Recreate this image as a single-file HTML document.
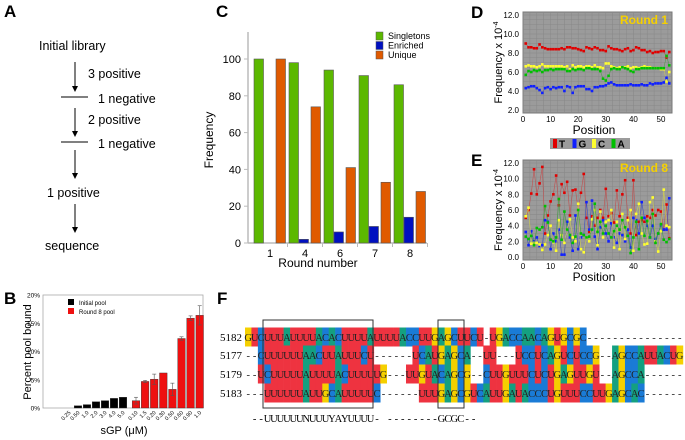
<!DOCTYPE html>
<html><head><meta charset="utf-8"><style>
body{margin:0;background:#fff}
svg{display:block;font-family:"Liberation Sans",sans-serif}
</style></head><body>
<svg id="fig" width="685" height="440" viewBox="0 0 685 440">
<!-- Panel A -->
<g font-size="12.5" fill="#000">
<text x="4" y="17" font-size="17" font-weight="bold">A</text>
<text x="39" y="50">Initial library</text>
<text x="88" y="78">3 positive</text>
<text x="98" y="103">1 negative</text>
<text x="88" y="124">2 positive</text>
<text x="98" y="148">1 negative</text>
<text x="47" y="197">1 positive</text>
<text x="45" y="250">sequence</text>
<g stroke="#000" stroke-width="1">
<line x1="61" y1="97" x2="88" y2="97"/><line x1="61" y1="142" x2="88" y2="142"/>
<line x1="75" y1="62" x2="75" y2="87"/><line x1="75" y1="108" x2="75" y2="132"/>
<line x1="75" y1="150" x2="75" y2="174"/><line x1="75" y1="204" x2="75" y2="228"/>
</g>
<g fill="#000"><path d="M72,86 L78,86 L75,92z"/><path d="M72,131 L78,131 L75,137z"/><path d="M72,173 L78,173 L75,179z"/><path d="M72,227 L78,227 L75,233z"/></g>
</g>
<g id="gC"></g>
<g id="gD"></g>
<g id="gE"></g>
<g id="gB"></g>
<g id="gF"></g>
</svg>
<script>
// ---- Panel C data ----
const cRounds = ["1","4","6","7","8"];
const cSingletons = [100, 98, 94, 91, 86];
const cEnriched = [0, 2, 6, 9, 14];
const cUnique = [100, 74, 41, 33, 28];
const cTicks = [0, 20, 40, 60, 80, 100];
// ---- Panel D data ----
const dRed = [9.0,8.6,8.6,8.5,8.5,8.9,8.6,8.5,8.4,8.4,8.4,8.4,8.4,8.5,8.4,8.6,8.6,8.5,8.5,8.4,8.3,8.2,8.6,8.5,8.4,8.6,8.5,8.3,8.3,8.2,8.7,8.5,8.4,8.4,8.3,8.2,8.4,8.5,8.2,8.3,8.6,8.5,8.3,8.3,8.1,8.2,8.0,8.1,8.1,8.2,8.2,7.5,8.1];
const dYellow = [6.6,6.7,6.6,6.6,6.5,6.6,6.8,6.6,6.6,6.6,6.6,6.6,6.6,6.6,6.5,6.6,6.3,6.7,6.5,6.6,6.6,6.5,6.6,6.6,6.5,6.7,6.5,6.5,6.4,6.9,6.9,6.6,6.5,6.4,6.5,6.5,6.5,6.6,6.4,6.5,6.5,6.4,6.5,6.6,6.5,6.5,6.4,6.4,6.4,6.3,6.3,5.0,6.0];
const dGreen = [5.7,6.1,6.0,6.2,6.1,6.2,6.0,6.2,6.2,6.3,6.2,6.3,6.3,6.3,6.3,6.1,6.1,6.3,6.2,6.3,6.3,6.2,6.4,6.4,6.3,6.3,6.3,6.1,5.3,5.1,5.6,6.3,6.4,6.3,6.3,6.5,6.4,6.3,6.1,6.0,6.3,6.3,6.4,6.4,6.4,6.4,6.4,6.4,6.4,6.4,6.4,7.7,6.7];
const dBlue = [4.3,4.4,4.5,4.5,4.3,4.1,3.8,4.3,4.4,4.2,4.4,4.3,4.4,4.4,4.0,4.5,4.4,3.8,4.4,4.5,4.5,4.5,4.2,4.2,4.0,4.4,4.4,4.5,4.5,4.6,4.8,4.9,4.7,4.6,4.6,4.6,4.6,4.6,4.7,4.6,4.6,4.6,4.7,4.6,4.6,4.8,4.7,4.8,4.8,4.8,4.9,5.4,4.8];
const dTicks = [2,4,6,8,10,12];
// ---- Panel E data ----
const eRed = [5.0,6.0,8.1,11.2,8.0,9.4,11.5,3.0,5.3,7.1,8.0,10.4,6.6,9.3,8.2,9.6,5.3,8.5,8.6,6.0,8.2,10.6,5.0,3.2,5.2,4.0,5.0,6.0,5.0,8.7,5.2,5.6,4.4,8.5,5.2,8.0,9.8,5.0,3.0,9.8,2.8,4.5,4.7,4.5,5.2,5.0,6.0,5.3,6.0,5.8,3.5,6.7,2.4];
const eBlue = [3.2,1.5,3.3,2.0,2.5,1.4,1.5,4.7,4.5,1.0,3.0,2.0,3.5,0.3,0.3,4.5,2.5,0.8,5.3,1.0,2.5,2.8,7.0,3.5,7.2,2.6,1.0,3.8,4.7,3.0,2.0,4.3,2.5,1.8,3.0,2.8,2.0,3.5,1.2,5.0,4.7,3.0,7.0,5.0,4.0,2.5,4.0,2.3,3.0,4.0,3.5,3.5,7.5];
const eYellow = [5.2,6.3,1.7,1.8,1.8,1.6,0.9,1.6,2.8,4.0,1.9,0.8,4.7,2.8,1.8,3.5,4.8,2.5,2.0,6.8,1.0,0.6,2.5,2.0,4.8,6.0,1.5,5.8,2.5,4.5,4.7,6.0,1.2,4.5,1.0,5.5,2.3,4.7,6.0,0.8,5.5,6.8,3.0,1.6,1.7,7.0,7.6,2.0,0.7,3.3,8.6,4.0,3.8];
const eGreen = [2.6,2.3,2.7,1.5,3.7,3.5,3.8,6.5,4.4,2.2,2.0,2.5,7.4,2.2,5.8,3.5,2.8,1.8,2.6,6.0,3.0,2.8,2.5,2.6,3.5,6.8,3.2,4.5,3.0,4.0,3.0,2.5,3.3,4.0,3.5,4.7,3.8,2.7,0.5,2.5,4.5,1.0,5.0,2.7,4.6,2.5,5.5,1.8,3.0,4.2,2.2,1.9,2.3];
const eTicks = [0,2,4,6,8,10,12];
const posTicks = [0,10,20,30,40,50];
// ---- Panel B data ----
const bInitialLabels = ["0.25","0.50","1.0","2.0","3.0","4.0","5.0"];
const bInitial = [0, 0.4, 0.6, 1.1, 1.3, 1.7, 1.9];
const bRound8Labels = ["0.10","1.5","0.20","0.30","0.50","0.60","0.90","1.0"];
const bRound8 = [1.3, 4.7, 5.1, 6.2, 3.3, 12.3, 15.9, 16.4];
const bRound8Err = [0.6, 0.2, 0.9, 0, 1.1, 0.3, 0.4, 1.7];
const bTicks = [0,5,10,15,20];
// ---- Panel F data ----
const fIds = ["5182","5177","5179","5183"];
const fSeqs = [
"GUCUUUAUUUUACACUUUUAUUUUACCUUGAGCUUCU-UGACCAACAGUGCGC---------------",
"--CUUUUUUAACUUAUUUCU------UCAUGAGCA--UU---UCCUCAGUCUCCG--AGCCAUUACUG",
"--UCUUUUUAUUUUACUUUUUG---UUGUACAGCG--CUUGUUUCUCUGAGUUGU--AGCCA------",
"---UUUUUUAUUGCAUUUUUC------UUUGAGCGUCAUUGAUACCCUGUUUCCUUGAGCAC------"];
const fConsensus = " --UUUUUUNUUUYAYUUUU- --------GCGC--";

const NS="http://www.w3.org/2000/svg";
function el(parent, tag, attrs, text){
  const e=document.createElementNS(NS,tag);
  for(const k in attrs) e.setAttribute(k,attrs[k]);
  if(text!==undefined) e.textContent=text;
  parent.appendChild(e); return e;
}

// ===== Panel C =====
(function(){
  const g=document.getElementById('gC');
  const x0=248, x1=427, yb=243, yt=32;
  const y=v=>yb-v*1.84;
  const gx=i=>270+i*35;
  let t=el(g,'text',{x:216,y:17,'font-size':17,'font-weight':'bold'},'C');
   
  el(g,'line',{x1:x0,y1:yt,x2:x0,y2:yb,stroke:'#bbb','stroke-width':1.5});
  el(g,'line',{x1:x0,y1:yb,x2:x1,y2:yb,stroke:'#bbb','stroke-width':1.5});
  cTicks.forEach(v=>{
    el(g,'line',{x1:x0-4,y1:y(v),x2:x0,y2:y(v),stroke:'#bbb'});
    t=el(g,'text',{x:x0-7,y:y(v)+4,'font-size':11,'text-anchor':'end'},String(v));
     
  });
  cRounds.forEach((r,i)=>{
    t=el(g,'text',{x:gx(i),y:yb+14,'font-size':11,'text-anchor':'middle'},r);
     
    el(g,'line',{x1:gx(i)+17.5,y1:yb,x2:gx(i)+17.5,y2:yb+4,stroke:'#bbb'});
    const series=[[cSingletons,'#5cb800',-16],[cEnriched,'#0010c0',-6],[cUnique,'#e05a00',6]];
    series.forEach(([arr,col,off],k)=>{
      const b=el(g,'rect',{x:gx(i)+off,y:y(arr[i]),width:9.5,height:yb-y(arr[i]),fill:col,stroke:'#555','stroke-width':0.6});
      
      
    });
  });
  t=el(g,'text',{x:0,y:0,'font-size':12,'text-anchor':'middle',transform:'translate(213,140) rotate(-90)'},'Frequency');
   
  t=el(g,'text',{x:318,y:267,'font-size':12,'text-anchor':'middle'},'Round number');
   
  [['Singletons','#5cb800'],['Enriched','#0010c0'],['Unique','#e05a00']].forEach(([n,c],k)=>{
    const r=el(g,'rect',{x:376,y:32+k*9.5,width:7,height:8,fill:c,stroke:'#555','stroke-width':0.5});
     
    t=el(g,'text',{x:388,y:39+k*9.5,'font-size':9},n);
     
  });
})();

// ===== Line panels D & E =====
function linePanel(gid, label, top, bot, ymin, ymax, ticks, series, roundLbl, lw){
  const g=document.getElementById(gid);
  const px0=523, px1=672;
  const xs=p=>523+p*2.76;
  const ys=v=>bot-(v-ymin)/(ymax-ymin)*(bot-top);
  let t=el(g,'text',{x:471,y:top+3,'font-size':17,'font-weight':'bold'},label);
   
  const bg=el(g,'rect',{x:px0,y:top-3,width:px1-px0,height:bot-top+6,fill:'#9b9b9b',stroke:'#777'});
   
  for(let p=0;p<=54;p+=2.5) el(g,'line',{x1:xs(p),y1:top-3,x2:xs(p),y2:bot+3,stroke:'#888','stroke-width':0.5});
  for(let v=ymin;v<=ymax;v+=(ymax-ymin)/20) el(g,'line',{x1:px0,y1:ys(v),x2:px1,y2:ys(v),stroke:'#888','stroke-width':0.5});
  ticks.forEach(v=>{
    t=el(g,'text',{x:px0-4,y:ys(v)+3,'font-size':8,'text-anchor':'end'},v.toFixed(1));
     
  });
  posTicks.forEach(p=>{
    t=el(g,'text',{x:xs(p),y:bot+12,'font-size':8,'text-anchor':'middle'},String(p));
     
  });
  series.forEach(([arr,col,line,nm])=>{
    const pl=el(g,'polyline',{points:arr.map((v,i)=>xs(i+1)+','+ys(v)).join(' '),fill:'none',stroke:line,'stroke-width':lw});
     
    arr.forEach((v,i)=>{
      const r=el(g,'rect',{x:xs(i+1)-1.3,y:ys(v)-1.3,width:2.6,height:2.6,fill:col});
       
    });
  });
  t=el(g,'text',{x:668,y:top+9,'font-size':12,'font-weight':'bold',fill:'#f5d000','text-anchor':'end'},roundLbl);
   
  t=el(g,'text',{x:0,y:0,'font-size':11,'text-anchor':'middle',transform:'translate(502,'+((top+bot)/2)+') rotate(-90)'},'Frequency x 10');
  el(t,'tspan',{dy:-4,'font-size':7},'-4');
   
  t=el(g,'text',{x:594,y:bot+24,'font-size':12,'text-anchor':'middle'},'Position');
   
}
linePanel('gD','D',15,110,2,12,dTicks,[[dRed,'#e00000','#c04040','red-t'],[dYellow,'#ffff30','#d0d050','yellow-c'],[dGreen,'#00c000','#40a040','green-a'],[dBlue,'#1020ff','#4050c0','blue-g']],'Round 1',0.5);
linePanel('gE','E',163,257,0,12,eTicks,[[eRed,'#e00000','#c05050','red-t'],[eBlue,'#1020ff','#4050c0','blue-g'],[eYellow,'#ffff30','#d0d050','yellow-c'],[eGreen,'#00c000','#40a040','green-a']],'Round 8',0.6);
(function(){
  const g=document.getElementById('gE');
  const lg=el(g,'g',{});
   
  el(lg,'rect',{x:550,y:138,width:80,height:11,fill:'#9b9b9b'});
  [['T','#e00000'],['G','#1020ff'],['C','#ffff30'],['A','#00c000']].forEach(([b,c],k)=>{
    el(lg,'rect',{x:553+k*19.5,y:139,width:4,height:9,fill:c});
    const t=el(lg,'text',{x:559+k*19.5,y:147.5,'font-size':10,'font-weight':'bold'},b);
     
  });
})();

// ===== Panel B =====
(function(){
  const g=document.getElementById('gB');
  const x0=43,x1=203,yt=295,yb=408;
  const y=v=>yb-v/20*(yb-yt);
  let t=el(g,'text',{x:4,y:304,'font-size':17,'font-weight':'bold'},'B');
   
  el(g,'rect',{x:x0,y:yt,width:x1-x0,height:yb-yt,fill:'none',stroke:'#aaa','stroke-width':0.8});
  bTicks.forEach(v=>{
    t=el(g,'text',{x:x0-3,y:y(v)+2.5,'font-size':6.5,'text-anchor':'end'},v+'%');
     
  });
  function bar(cx,v,col,lab,nm){
    const r=el(g,'rect',{x:cx-3.8,y:y(v),width:7.6,height:yb-y(v),fill:col,stroke:'#333','stroke-width':0.4});
     
    const t=el(g,'text',{x:0,y:0,'font-size':5.5,'text-anchor':'end',transform:'translate('+(cx+2)+','+(yb+5)+') rotate(-45)'},lab);
     
  }
  bInitial.forEach((v,i)=>bar(69+9*i,v,'#000',bInitialLabels[i],'bar-initial-pool'));
  bRound8.forEach((v,i)=>{
    const cx=136+9.1*i;
    bar(cx,v,'#ee1010',bRound8Labels[i],'bar-round8-pool');
    const e=bRound8Err[i];
    if(e>0){
      el(g,'line',{x1:cx,y1:y(v+e),x2:cx,y2:y(v-e),stroke:'#555','stroke-width':0.6});
      el(g,'line',{x1:cx-2,y1:y(v+e),x2:cx+2,y2:y(v+e),stroke:'#555','stroke-width':0.6});
      el(g,'line',{x1:cx-2,y1:y(v-e),x2:cx+2,y2:y(v-e),stroke:'#555','stroke-width':0.6});
    }
  });
  [['Initial pool','#000'],['Round 8 pool','#ee1010']].forEach(([n,c],k)=>{
    el(g,'rect',{x:68,y:299+k*9,width:6,height:6,fill:c});
    const t=el(g,'text',{x:79,y:305+k*9,'font-size':6},n);
     
  });
  t=el(g,'text',{x:0,y:0,'font-size':11,'text-anchor':'middle',transform:'translate(31,352) rotate(-90)'},'Percent pool bound');
   
  t=el(g,'text',{x:124,y:434,'font-size':11,'text-anchor':'middle'},'sGP (\u03bcM)');
   
})();

// ===== Panel F =====
(function(){
  const g=document.getElementById('gF');
  const cw=6.44, sx=245, rowsY=[337,355,374,393];
  const colors={U:'#ee3340',A:'#14a080',G:'#f5d000',C:'#1a7bd6'};
  let t=el(g,'text',{x:217,y:304,'font-size':17,'font-weight':'bold'},'F');
   
  fSeqs.forEach((s,r)=>{
    const yc=rowsY[r];
    t=el(g,'text',{x:sx-3,y:yc+4,'font-size':11,'text-anchor':'end','font-family':'Liberation Serif'},fIds[r]);
     
    [...s].forEach((ch,i)=>{
      if(colors[ch]){
        const rc=el(g,'rect',{x:sx+i*cw,y:yc-9.5,width:cw+0.3,height:19,fill:colors[ch]});
         
      }
    });
  });
  fSeqs.forEach((s,r)=>{
    const yc=rowsY[r];
    [...s].forEach((ch,i)=>{
      const cx=sx+i*cw+cw/2;
      const tt=el(g,'text',{x:cx,y:yc+4,'font-size':10.5,'text-anchor':'middle','font-family':'Liberation Serif',fill:'#222'},ch);
       
    });
  });
  [...fConsensus].forEach((ch,i)=>{
    if(ch===' ') return;
    const tt=el(g,'text',{x:sx+i*cw+cw/2,y:422,'font-size':10.5,'text-anchor':'middle','font-family':'Liberation Serif'},ch);
     
  });
  let b=el(g,'rect',{x:263,y:320,width:110,height:88,fill:'none',stroke:'#333','stroke-width':1});
   
  b=el(g,'rect',{x:438,y:320,width:26,height:88,fill:'none',stroke:'#333','stroke-width':1});
   
})();
</script>
</body></html>
